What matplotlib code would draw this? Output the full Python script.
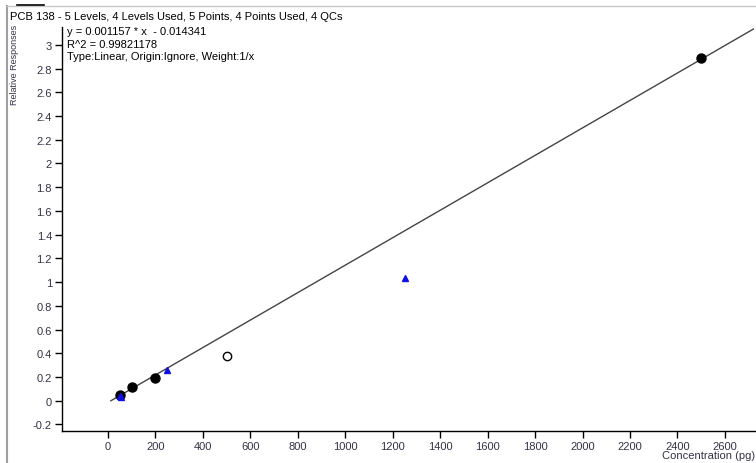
import matplotlib
matplotlib.use("Agg")
import matplotlib.pyplot as plt
from matplotlib.lines import Line2D
import numpy as np

# Data
cal_used_x = [50, 100, 200, 2500]
cal_used_y = [0.048, 0.113, 0.19, 2.885]
cal_excl_x = [500]
cal_excl_y = [0.38]
qc_x = [50, 55, 250, 1250]
qc_y = [0.037, 0.03, 0.256, 1.034]
slope = 0.001157
intercept = -0.014341
fit_x = [12.4, 2720]
x_ticks = list(range(0, 2700, 200))
y_ticks = [round(-0.2 + 0.2 * i, 1) for i in range(17)]
title = "PCB 138 - 5 Levels, 4 Levels Used, 5 Points, 4 Points Used, 4 QCs"
info_lines = ["y = 0.001157 * x  - 0.014341", "R^2 = 0.99821178",
              "Type:Linear, Origin:Ignore, Weight:1/x"]

plt.rcParams['font.family'] = ['Liberation Sans', 'DejaVu Sans']
W, H = 756, 464
fig = plt.figure(figsize=(W / 100, H / 100), dpi=100)
fig.patch.set_facecolor('white')

ax = fig.add_axes([61.7 / W, (H - 432) / H, 1 - 61.7 / W, (432 - 28) / H])
ax.set_xlim(-195, 2731)
ax.set_ylim(-0.255, 3.15)

fy = [slope * x + intercept for x in fit_x]
ax.plot(fit_x, fy, color='#444444', lw=1.0, zorder=2)
ax.plot(cal_used_x, cal_used_y, 'o', color='black', ms=6.5, zorder=3)
ax.plot(cal_excl_x, cal_excl_y, 'o', mfc='white', mec='black', mew=1.0, ms=6, zorder=3)
ax.plot(qc_x, qc_y, '^', color='#1010e0', ms=5, zorder=4)

for s in ['top', 'right']:
    ax.spines[s].set_visible(False)
for s in ['left', 'bottom']:
    ax.spines[s].set_color('black')
    ax.spines[s].set_linewidth(1.0)

ax.set_xticks(x_ticks)
ax.set_yticks(y_ticks)
ax.set_yticklabels([('%g' % v) for v in y_ticks])
ax.tick_params(axis='both', direction='out', length=5, width=1, colors='black',
               labelsize=8, labelcolor='#333344', pad=2)

fig.text(10 / W, 1 - 17 / H, title, fontsize=8, color='black', va='center', ha='left')
for i, t in enumerate(info_lines):
    fig.text(67 / W, 1 - (32 + 12.5 * i) / H, t, fontsize=8, color='black', va='center', ha='left')
fig.text(15 / W, 1 - 65 / H, "Relative Responses", rotation=90, fontsize=6.5,
         color='#333344', va='center', ha='center')
fig.text(755 / W, 1 - 456.5 / H, "Concentration (pg)", fontsize=8, color='#333344',
         va='center', ha='right')

# window frame lines
fig.add_artist(Line2D([7 / W, 7 / W], [0, 1 - 7 / H], color='#a0a0a0', lw=1.5))
fig.add_artist(Line2D([7 / W, 1], [1 - 7 / H, 1 - 7 / H], color='#c8c8c8', lw=1))
fig.add_artist(Line2D([17 / W, 44 / W], [1 - 6 / H, 1 - 6 / H], color='black', lw=1.2))

fig.savefig('out.png', dpi=100, facecolor='white')
